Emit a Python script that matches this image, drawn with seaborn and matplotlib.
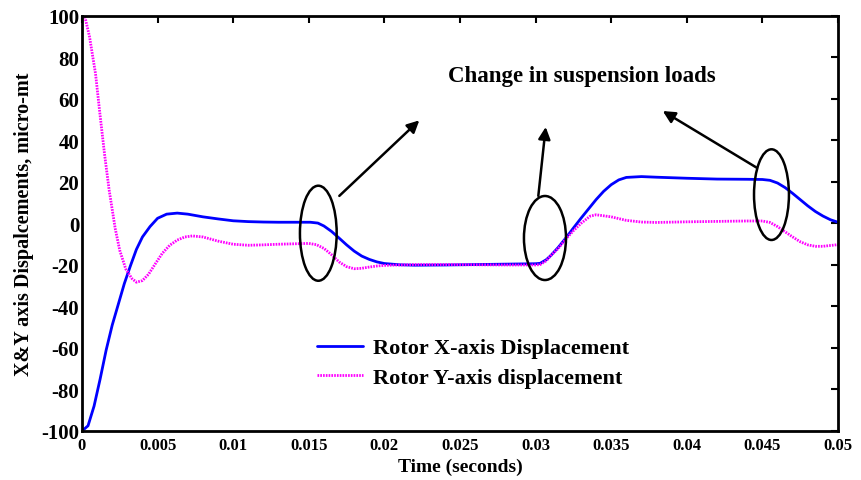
import numpy as np
import pandas as pd
import seaborn as sns
import matplotlib
matplotlib.use("Agg")
import matplotlib.pyplot as plt
from matplotlib.patches import Ellipse

# ---- data ----
time_x = [0, 0.0004, 0.0008, 0.0012, 0.0016, 0.002, 0.0024, 0.0028, 0.0032, 0.0036,
          0.004, 0.0045, 0.005, 0.0056, 0.0063, 0.007, 0.008, 0.009, 0.010, 0.011,
          0.012, 0.013, 0.014, 0.0151, 0.0156, 0.016, 0.0165, 0.017, 0.0175, 0.018,
          0.0185, 0.019, 0.0195, 0.020, 0.021, 0.022, 0.024, 0.026, 0.028, 0.030,
          0.0303, 0.0307, 0.031, 0.0315, 0.032, 0.0325, 0.033, 0.0335, 0.034, 0.0345,
          0.035, 0.0355, 0.036, 0.037, 0.038, 0.040, 0.042, 0.044, 0.045, 0.0455,
          0.046, 0.0465, 0.047, 0.0475, 0.048, 0.0485, 0.049, 0.0495, 0.050]
rotor_x = [-100, -97.5, -88, -75, -61, -49, -39, -29, -20.5, -12.5,
           -6.5, -1.5, 2.5, 4.5, 5, 4.5, 3.2, 2.2, 1.3, 0.9,
           0.7, 0.6, 0.6, 0.6, 0.2, -1.2, -3.8, -7, -10.3, -13.3,
           -15.7, -17.3, -18.5, -19.3, -19.9, -20.1, -20, -19.8, -19.6, -19.4,
           -19.2, -17.5, -15.5, -11.5, -7, -2.2, 2.5, 7, 11.5, 15.5,
           18.7, 21, 22.2, 22.6, 22.3, 21.8, 21.4, 21.3, 21.2, 20.8,
           19.5, 17.3, 14.5, 11.5, 8.5, 5.8, 3.6, 1.8, 0.6]

time_y = [0, 0.0002, 0.0005, 0.0009, 0.0012, 0.0015, 0.0018, 0.0022, 0.0025, 0.0029,
          0.0033, 0.0036, 0.004, 0.0044, 0.0048, 0.0053, 0.0058, 0.0063, 0.0068, 0.0073,
          0.008, 0.009, 0.010, 0.011, 0.012, 0.013, 0.014, 0.015, 0.0155, 0.016,
          0.0165, 0.017, 0.0175, 0.018, 0.0185, 0.019, 0.0195, 0.020, 0.021, 0.022,
          0.024, 0.026, 0.028, 0.030, 0.0303, 0.0307, 0.031, 0.0315, 0.032, 0.0325,
          0.033, 0.0336, 0.034, 0.035, 0.036, 0.037, 0.038, 0.040, 0.042, 0.044,
          0.045, 0.0455, 0.046, 0.0465, 0.047, 0.0475, 0.048, 0.0485, 0.049, 0.0495,
          0.050]
rotor_y = [100, 99.4, 90, 72, 52, 33, 16, -2.5, -13, -22,
           -26.5, -28.3, -27.5, -24.5, -20, -14.5, -10.5, -8, -6.5, -6,
           -6.5, -8.5, -10, -10.5, -10.3, -10, -9.8, -9.6, -10.2, -12,
           -15, -18.5, -20.8, -21.8, -21.6, -21, -20.5, -20.2, -20, -19.8,
           -19.8, -19.9, -20, -20, -19.8, -18, -15.5, -12, -7.5, -3.5,
           0, 3.5, 4.2, 3.2, 1.5, 0.7, 0.5, 0.8, 1, 1.2,
           1.2, 0.5, -1.5, -4, -6.5, -8.8, -10.3, -11, -11, -10.6,
           -10.2]

series_names = ["Rotor X-axis Displacement", "Rotor Y-axis displacement"]
x_ticks = [0, 0.005, 0.01, 0.015, 0.02, 0.025, 0.03, 0.035, 0.04, 0.045, 0.05]
x_tick_labels = ["0", "0.005", "0.01", "0.015", "0.02", "0.025", "0.03", "0.035", "0.04", "0.045", "0.05"]
y_ticks = [-100, -80, -60, -40, -20, 0, 20, 40, 60, 80, 100]
annotation_text = "Change in suspension loads"
# ellipse centers/sizes (time, value) marking load changes
ellipse_centers = [(0.01563, -4.7), (0.03062, -7.0), (0.0456, 13.9)]
ellipse_sizes = [(0.00243, 45.8), (0.00278, 40.5), (0.00231, 43.7)]
arrow_tails = [(0.01702, 13.3), (0.03018, 13.3), (0.04462, 26.9)]
arrow_heads = [(0.02231, 49.7), (0.03067, 46.5), (0.03841, 54.2)]

# ---- plotting ----
sns.set_theme(style="white")
plt.rcParams["font.family"] = ["Liberation Serif", "DejaVu Serif"]
plt.rcParams["font.weight"] = "bold"
plt.rcParams["text.color"] = "black"
plt.rcParams["axes.labelcolor"] = "black"

fig = plt.figure(figsize=(8.61, 4.81), dpi=100)
ax = fig.add_axes([0.0952, 0.1019, 0.8781, 0.8628])

df_x = pd.DataFrame({"t": time_x, "v": rotor_x})
df_y = pd.DataFrame({"t": time_y, "v": rotor_y})
sns.lineplot(data=df_x, x="t", y="v", ax=ax, color="#0000FF", lw=2.0,
             label=series_names[0], estimator=None, sort=False)
sns.lineplot(data=df_y, x="t", y="v", ax=ax, color="#FF00FF", lw=2.0,
             linestyle=(0, (0.6, 0.4)), label=series_names[1], estimator=None, sort=False)

ax.set_xlim(0, 0.05)
ax.set_ylim(-100, 100)
ax.set_xticks(x_ticks)
ax.set_xticklabels(x_tick_labels, fontsize=12, fontweight="bold")
ax.set_yticks(y_ticks)
ax.set_yticklabels([str(v) for v in y_ticks], fontsize=15, fontweight="bold")
ax.tick_params(axis="x", pad=4)
ax.tick_params(axis="y", pad=2)
ax.tick_params(direction="in", length=5, width=1.5, top=True, right=True,
               colors="black")
for s in ax.spines.values():
    s.set_linewidth(2)
    s.set_color("black")

ax.set_xlabel("Time (seconds)", fontsize=14, fontweight="bold", labelpad=4, color="black")
ax.set_ylabel("X&Y axis Dispalcements, micro-mt", fontsize=14.5, fontweight="bold",
              labelpad=5, color="black")

for (cx, cy), (w, h) in zip(ellipse_centers, ellipse_sizes):
    ax.add_patch(Ellipse((cx, cy), w, h, fill=False, edgecolor="black", lw=1.8, zorder=5))
for tail, head in zip(arrow_tails, arrow_heads):
    ax.annotate("", xy=head, xytext=tail,
                arrowprops=dict(arrowstyle="-|>", color="black", lw=1.8,
                                mutation_scale=18, shrinkA=0, shrinkB=0))

ax.text(0.03305, 71.1, annotation_text, ha="center", va="center",
        fontsize=16.5, fontweight="bold", color="black")

leg = ax.legend(loc="center left", bbox_to_anchor=(0.284, 0.164), frameon=False,
                fontsize=16, handlelength=2.1, handletextpad=0.45, labelspacing=0.4)
for t in leg.get_texts():
    t.set_fontweight("bold")
    t.set_color("black")

fig.savefig("out.png", dpi=100)
